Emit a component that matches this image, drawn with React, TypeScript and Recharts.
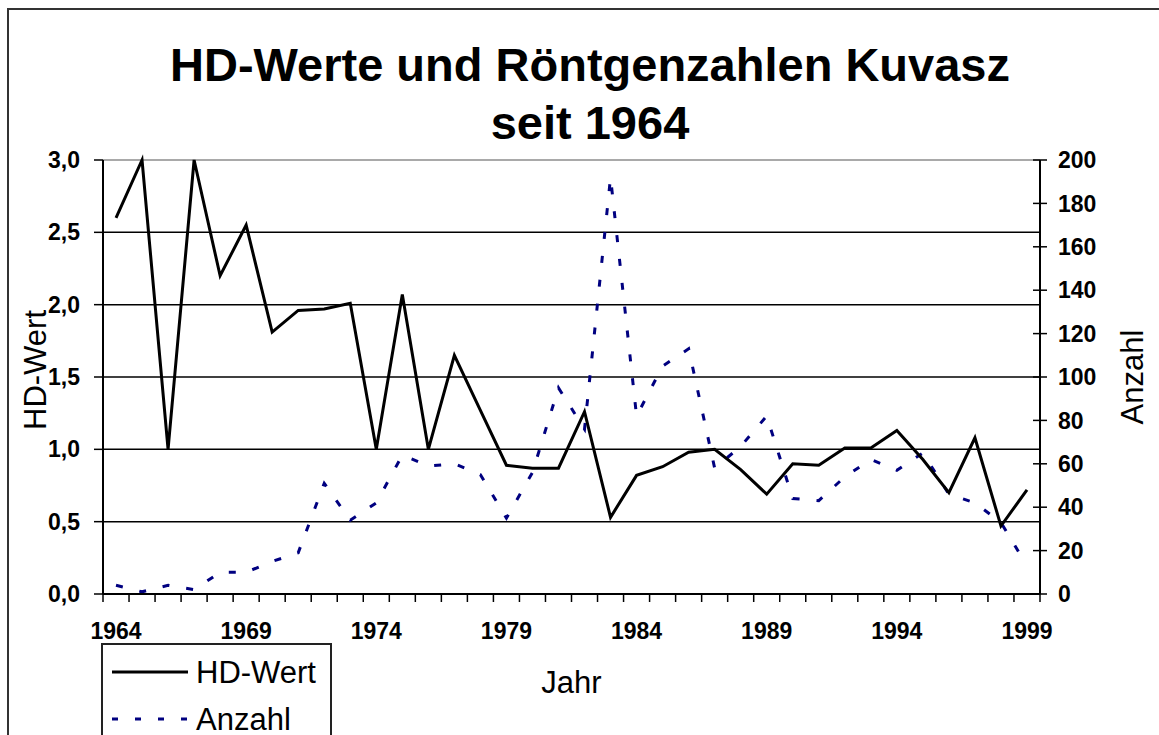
import React from 'react';
import { LineChart, Line, XAxis, YAxis, CartesianGrid, ReferenceLine } from 'recharts';

const years = [
  1964, 1965, 1966, 1967, 1968, 1969, 1970, 1971, 1972, 1973, 1974, 1975,
  1976, 1977, 1978, 1979, 1980, 1981, 1982, 1983, 1984, 1985, 1986, 1987,
  1988, 1989, 1990, 1991, 1992, 1993, 1994, 1995, 1996, 1997, 1998, 1999,
];
const hdWert = [
  2.6, 3.0, 1.0, 3.0, 2.2, 2.55, 1.81, 1.96, 1.97, 2.01, 1.0, 2.07,
  1.0, 1.65, 1.27, 0.89, 0.87, 0.87, 1.26, 0.53, 0.82, 0.88, 0.98, 1.0,
  0.86, 0.69, 0.9, 0.89, 1.01, 1.01, 1.13, 0.93, 0.7, 1.08, 0.47, 0.72,
];
const anzahl = [
  4, 1, 4, 2, 10, 10, 15, 19, 51, 34, 42, 64,
  59, 60, 55, 35, 56, 95, 76, 192, 82, 105, 113, 58,
  68, 82, 44, 43, 54, 62, 57, 65, 46, 42, 33, 13,
];
const yearLabels = [1964, 1969, 1974, 1979, 1984, 1989, 1994, 1999];
const hdTicks = [0, 0.5, 1, 1.5, 2, 2.5, 3];
const anzahlTicks = [0, 20, 40, 60, 80, 100, 120, 140, 160, 180, 200];

const FONT = '"Liberation Sans", Arial, sans-serif';
const NAVY = '#000080';

const data = years.map((year, i) => ({ year, hd: hdWert[i], anzahl: anzahl[i] }));
// Excel draws the tick marks between the years, so add the edges as extra ticks
const yearEdges = [...years.map(y => y - 0.5), years[years.length - 1] + 0.5];

const X_TICK = 8;
const X_MARGIN = 21;
const R_TICK = 7;
const R_MARGIN = 11;

const YearTick = (props: any) => {
  const { x, y, payload } = props;
  const v = payload.value;
  if (yearLabels.includes(v)) {
    return (
      <text x={x} y={y} dy="0.71em" textAnchor="middle" fill="#000"
        fontFamily={FONT} fontSize={23} fontWeight="bold">{v}</text>
    );
  }
  const axisY = y - X_TICK - X_MARGIN;
  return <line x1={x} x2={x} y1={axisY} y2={axisY + X_TICK} stroke="#000" strokeWidth={1.5} />;
};

const CountTick = (props: any) => {
  const { x, y, payload } = props;
  const axisX = x - R_TICK - R_MARGIN;
  return (
    <g>
      <line x1={axisX - R_TICK} x2={axisX + R_TICK} y1={y} y2={y} stroke="#000" strokeWidth={1.5} />
      <text x={x} y={y} dy="0.355em" textAnchor="start" fill="#000"
        fontFamily={FONT} fontSize={23} fontWeight="bold">{payload.value}</text>
    </g>
  );
};

const sideLabel = (text: string, dx: number, dy: number) => (props: any) => {
  const vb = props.viewBox;
  const cx = vb.x + dx;
  const cy = vb.y + vb.height / 2 + dy;
  return (
    <text x={cx} y={cy} transform={`rotate(-90 ${cx} ${cy})`} textAnchor="middle"
      dominantBaseline="central" fill="#000" fontFamily={FONT} fontSize={31}>{text}</text>
  );
};

const yearLabel = (props: any) => {
  const vb = props.viewBox;
  return (
    <text x={vb.x + vb.width / 2} y={vb.y + 99} textAnchor="middle" fill="#000"
      fontFamily={FONT} fontSize={31}>Jahr</text>
  );
};

const App: React.FC = () => {
  return (
    <div style={{ position: 'fixed', left: 0, top: 0, width: 1159, height: 735, overflow: 'hidden', background: '#fff' }}>
      <div style={{ position: 'absolute', left: 7, top: 8, width: 1300, height: 900, border: '2px solid #333' }} />

      <div style={{
        position: 'absolute', left: 90, top: 36, width: 1000, textAlign: 'center',
        fontFamily: FONT, fontWeight: 'bold', fontSize: 47, lineHeight: '58px', color: '#000',
      }}>
        HD-Werte und Röntgenzahlen Kuvasz<br />seit 1964
      </div>

      <div style={{ position: 'absolute', left: 0, top: 0 }}>
        <LineChart width={1159} height={735} data={data} margin={{ top: 160, right: 0, bottom: 0, left: 0 }}>
          <CartesianGrid yAxisId="hd" vertical={false} horizontalValues={[0.5, 1, 1.5, 2, 2.5]} stroke="#000" strokeWidth={1.5} />
          <ReferenceLine yAxisId="hd" y={3} stroke="#8c8c8c" strokeWidth={1.5} />
          <XAxis
            dataKey="year"
            type="number"
            domain={[yearEdges[0], yearEdges[yearEdges.length - 1]]}
            ticks={[...yearEdges, ...yearLabels]}
            interval={0}
            height={141}
            tickLine={false}
            tickSize={X_TICK}
            tickMargin={X_MARGIN}
            tick={<YearTick />}
            axisLine={{ stroke: '#000', strokeWidth: 2 }}
            label={{ content: yearLabel }}
          />
          <YAxis
            yAxisId="hd"
            orientation="left"
            width={103}
            domain={[0, 3]}
            ticks={hdTicks}
            interval={0}
            tickSize={9}
            tickMargin={14}
            tickFormatter={(v: number) => v.toFixed(1).replace('.', ',')}
            tick={{ fill: '#000', fontSize: 23, fontWeight: 'bold', fontFamily: FONT }}
            tickLine={{ stroke: '#000', strokeWidth: 1.5 }}
            axisLine={{ stroke: '#000', strokeWidth: 2 }}
            label={{ content: sideLabel('HD-Wert', 35, -7) }}
          />
          <YAxis
            yAxisId="anz"
            orientation="right"
            width={119}
            domain={[0, 200]}
            ticks={anzahlTicks}
            interval={0}
            tickSize={R_TICK}
            tickMargin={R_MARGIN}
            tickLine={false}
            tick={<CountTick />}
            axisLine={{ stroke: '#000', strokeWidth: 2 }}
            label={{ content: sideLabel('Anzahl', 92, 0) }}
          />
          <Line yAxisId="anz" type="linear" dataKey="anzahl" name="Anzahl" stroke={NAVY}
            strokeWidth={3} strokeDasharray="7 17" dot={false} isAnimationActive={false} />
          <Line yAxisId="hd" type="linear" dataKey="hd" name="HD-Wert" stroke="#000"
            strokeWidth={3} dot={false} isAnimationActive={false} />
        </LineChart>
      </div>

      <div style={{ position: 'absolute', left: 101, top: 643, width: 231, height: 120, border: '2px solid #222', background: '#fff', boxSizing: 'border-box' }}>
        <svg width={227} height={116} style={{ display: 'block' }}>
          <line x1={9} x2={85} y1={27} y2={27} stroke="#000" strokeWidth={3} />
          <text x={93} y={27} dominantBaseline="central" fontFamily={FONT} fontSize={31} fill="#000">HD-Wert</text>
          <line x1={9} x2={85} y1={74} y2={74} stroke={NAVY} strokeWidth={3} strokeDasharray="6 17" />
          <text x={93} y={74} dominantBaseline="central" fontFamily={FONT} fontSize={31} fill="#000">Anzahl</text>
        </svg>
      </div>
    </div>
  );
};

export default App;
